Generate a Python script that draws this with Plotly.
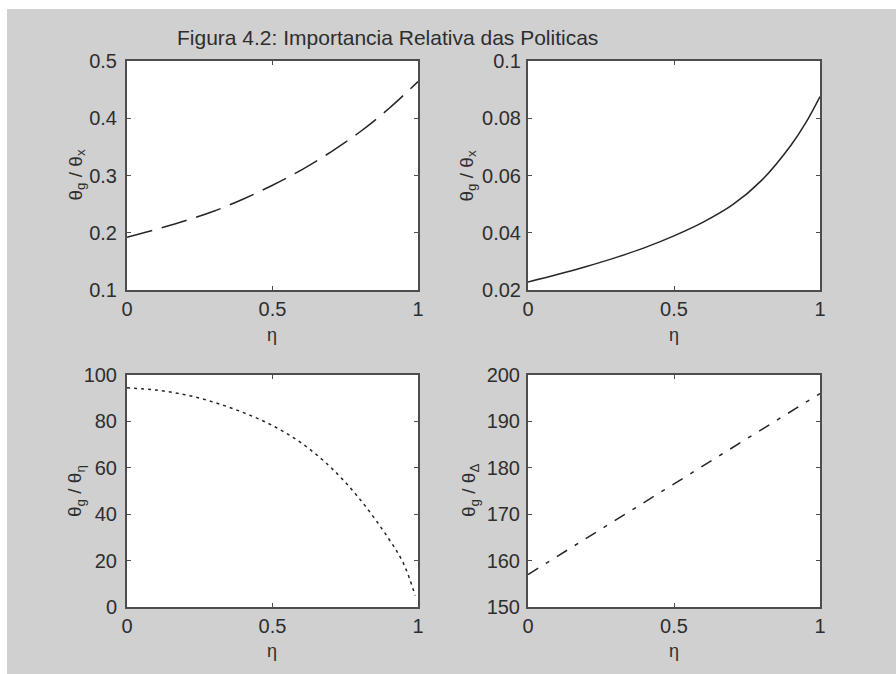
import plotly.graph_objects as go

# ---------------- data ----------------
eta_a = [0.0, 0.1, 0.2, 0.3, 0.4, 0.5, 0.6, 0.7, 0.8, 0.9, 1.0]
ratio_x = [0.192, 0.206, 0.221, 0.238, 0.259, 0.283, 0.310, 0.341, 0.376, 0.417, 0.464]

eta_b = [0.0, 0.1, 0.2, 0.3, 0.4, 0.5, 0.6, 0.7, 0.8, 0.9, 0.95, 1.0]
ratio_pi = [0.0228, 0.0254, 0.0282, 0.0313, 0.0348, 0.0389, 0.0437, 0.0497, 0.0583, 0.0705, 0.0782, 0.0876]

eta_c = [0.0, 0.1, 0.2, 0.3, 0.4, 0.5, 0.6, 0.7, 0.8, 0.9, 0.95, 0.99]
ratio_eta = [94.5, 93.5, 91.5, 88.2, 83.8, 78.2, 70.6, 60.2, 46.5, 29.3, 18.8, 5.0]

eta_d = [0.0, 0.25, 0.5, 0.75, 1.0]
ratio_delta = [157.0, 166.8, 176.5, 186.3, 196.0]

x_ticks = [0, 0.5, 1]
x_ticklabels = ["0", "0.5", "1"]
y1_ticks = [0.1, 0.2, 0.3, 0.4, 0.5]
y1_labels = ["0.1", "0.2", "0.3", "0.4", "0.5"]
y2_ticks = [0.02, 0.04, 0.06, 0.08, 0.1]
y2_labels = ["0.02", "0.04", "0.06", "0.08", "0.1"]
y3_ticks = [0, 20, 40, 60, 80, 100]
y3_labels = ["0", "20", "40", "60", "80", "100"]
y4_ticks = [150, 160, 170, 180, 190, 200]
y4_labels = ["150", "160", "170", "180", "190", "200"]

title_text = "Figura 4.2: Importancia Relativa das Politicas"
ytitles = ["θ<sub>g</sub> / θ<sub>x</sub>", "θ<sub>g</sub> / θ<sub>x</sub>",
           "θ<sub>g</sub> / θ<sub>η</sub>", "θ<sub>g</sub> / θ<sub>Δ</sub>"]
xtitle = "η"

# ---------------- layout geometry ----------------
W, H = 896, 674
BG = "#d0d0d0"
AX = "#4d4d4d"
LINE = "#262626"
TXT = "#2e2e2e"
FONT = "Liberation Sans, Arial, sans-serif"

def fx(px):
    return px / W

def fy(py):
    return 1 - py / H

dom_x = [[fx(127), fx(418)], [fx(528), fx(820)]]
dom_y = [[fy(290), fy(61)], [fy(607), fy(375)]]

fig = go.Figure()

fig.add_trace(go.Scatter(x=eta_a, y=ratio_x, mode="lines", xaxis="x", yaxis="y",
                         line=dict(color=LINE, width=1.5, dash="26px,10px", shape="spline")))
fig.add_trace(go.Scatter(x=eta_b, y=ratio_pi, mode="lines", xaxis="x2", yaxis="y2",
                         line=dict(color=LINE, width=1.5, shape="spline")))
fig.add_trace(go.Scatter(x=eta_c, y=ratio_eta, mode="lines", xaxis="x3", yaxis="y3",
                         line=dict(color=LINE, width=1.5, dash="3px,4px", shape="spline")))
fig.add_trace(go.Scatter(x=eta_d, y=ratio_delta, mode="lines", xaxis="x4", yaxis="y4",
                         line=dict(color=LINE, width=1.5, dash="12px,9px,4px,9px")))

def xaxis(dom, anchor):
    return dict(domain=dom, anchor=anchor, range=[0, 1], tickvals=x_ticks, ticktext=x_ticklabels,
                showline=True, linecolor=AX, linewidth=2, mirror="allticks",
                ticks="inside", ticklen=4, tickcolor=AX, tickwidth=1,
                showgrid=False, zeroline=False, fixedrange=True, automargin=False,
                tickfont=dict(family=FONT, size=20, color=TXT), ticklabelstandoff=0)

def yaxis(dom, anchor, rng, tv, tt, standoff):
    return dict(domain=dom, anchor=anchor, range=rng, tickvals=tv, ticktext=tt,
                showline=True, linecolor=AX, linewidth=2, mirror="allticks",
                ticks="inside", ticklen=4, tickcolor=AX, tickwidth=1,
                showgrid=False, zeroline=False, fixedrange=True, automargin=False,
                tickfont=dict(family=FONT, size=20, color=TXT), ticklabelstandoff=standoff)

fig.update_layout(
    width=W, height=H, autosize=False,
    margin=dict(l=0, r=0, t=0, b=0, pad=0, autoexpand=False),
    paper_bgcolor=BG, plot_bgcolor="white",
    showlegend=False,
    font=dict(family=FONT, color=TXT),
    xaxis=xaxis(dom_x[0], "y"),
    yaxis=yaxis(dom_y[0], "x", [0.1, 0.5], y1_ticks, y1_labels, 4),
    xaxis2=xaxis(dom_x[1], "y2"),
    yaxis2=yaxis(dom_y[0], "x2", [0.02, 0.1], y2_ticks, y2_labels, 1),
    xaxis3=xaxis(dom_x[0], "y3"),
    yaxis3=yaxis(dom_y[1], "x3", [0, 100], y3_ticks, y3_labels, 4),
    xaxis4=xaxis(dom_x[1], "y4"),
    yaxis4=yaxis(dom_y[1], "x4", [150, 200], y4_ticks, y4_labels, 2),
)

# thin white strips along the top and left edges of the picture
fig.add_shape(type="rect", xref="paper", yref="paper", x0=0, x1=1, y0=fy(9), y1=1,
              fillcolor="white", line_width=0, layer="above")
fig.add_shape(type="rect", xref="paper", yref="paper", x0=0, x1=fx(7), y0=0, y1=1,
              fillcolor="white", line_width=0, layer="above")

# title
fig.add_annotation(text=title_text, xref="paper", yref="paper", x=fx(387), y=fy(38),
                   showarrow=False, font=dict(family=FONT, size=21, color=TXT),
                   xanchor="center", yanchor="middle")

# y titles
ycent = [(61 + 290) / 2, (61 + 290) / 2, (375 + 607) / 2, (375 + 607) / 2]
xcent = [76, 467, 76, 470]
for t, xc, yc in zip(ytitles, xcent, ycent):
    fig.add_annotation(text=t, xref="paper", yref="paper", x=fx(xc), y=fy(yc),
                       showarrow=False, textangle=-90,
                       font=dict(family=FONT, size=19, color=TXT),
                       xanchor="center", yanchor="middle")

# x titles
for xc, yc in [(272, 335), (674, 335), (272, 651), (674, 651)]:
    fig.add_annotation(text=xtitle, xref="paper", yref="paper", x=fx(xc), y=fy(yc),
                       showarrow=False, font=dict(family=FONT, size=18, color=TXT),
                       xanchor="center", yanchor="middle")

fig.write_html("out.html", config={"responsive": False})
